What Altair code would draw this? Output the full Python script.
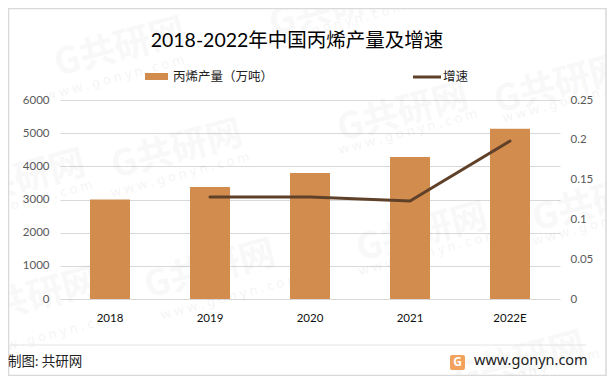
import altair as alt
import pandas as pd

years = ["2018", "2019", "2020", "2021", "2022E"]
output = [3000, 3380, 3800, 4285, 5130]
growth = [None, 0.128, 0.128, 0.123, 0.1985]
FONT = "Lato, Noto Sans CJK SC"
W, H = 500, 199
PL, PT = 52, 92
df = pd.DataFrame({"year": years, "output": output, "growth": growth})


def px(x):
    return x - 8 - PL


def py(y):
    return y - 8 - PT


def text(label, x, y, size, color="#000000", align="left", opacity=1.0, angle=0, weight="normal", font=FONT):
    return alt.Chart(df.head(1)).mark_text(
        text=label, fontSize=size, color=color, align=align, baseline="middle", opacity=opacity,
        angle=angle, fontWeight=weight, font=font, clip=False,
    ).encode(x=alt.value(px(x)), y=alt.value(py(y)))


def hrule(x1, x2, y, color, size=1):
    return alt.Chart(df.head(1)).mark_rule(color=color, strokeWidth=size).encode(
        x=alt.value(px(x1)), x2=alt.value(px(x2)), y=alt.value(py(y)))


def vrule(x, y1, y2, color, size=1):
    return alt.Chart(df.head(1)).mark_rule(color=color, strokeWidth=size).encode(
        x=alt.value(px(x)), y=alt.value(py(y1)), y2=alt.value(py(y2)))


x_enc = alt.X("year:N", sort=years, title=None, scale=alt.Scale(paddingInner=0, paddingOuter=0),
              axis=alt.Axis(labelAngle=0, labelFontSize=11.5, labelColor="#111111", labelFont=FONT,
                            ticks=False, domain=False, labelPadding=13, grid=False))

bars = alt.Chart(df).mark_bar(color="#D28C4E", size=40).encode(
    x=x_enc,
    y=alt.Y("output:Q", title=None, scale=alt.Scale(domain=[0, 6000]),
            axis=alt.Axis(values=[0, 1000, 2000, 3000, 4000, 5000, 6000], format="d", labelFontSize=11.5,
                          labelColor="#595959", labelFont=FONT, ticks=False, domain=False,
                          gridColor="#D9D9D9", gridWidth=1, labelPadding=11)),
)
line = alt.Chart(df.dropna()).mark_line(color="#5F4129", strokeWidth=3, strokeCap="round").encode(
    x=alt.X("year:N", sort=years, title=None),
    y=alt.Y("growth:Q", title=None, scale=alt.Scale(domain=[0, 0.25]),
            axis=alt.Axis(orient="right", values=[0, 0.05, 0.1, 0.15, 0.2, 0.25], format="~g",
                          labelFontSize=11.5, labelColor="#595959", labelFont=FONT, ticks=False,
                          domain=False, grid=False, labelPadding=10)),
)

marks = []
for x, y in [(120, 48), (177, 150), (403, 113), (210, 270), (422, 233), (20, 180), (598, 203), (560, 85), (33, 298), (520, 362), (335, 8)]:
    marks.append(text("G共研网", x, y, 36, align="center", opacity=0.022, angle=345, weight="bold", font="Noto Sans CJK SC"))
for x, y in [(115, 78), (180, 175), (408, 132), (230, 297), (428, 253), (23, 203), (602, 223), (572, 100), (50, 335), (530, 372), (335, 25)]:
    marks.append(text("w w w . g o n y n . c o m", x, y, 13, align="center", opacity=0.04, angle=345, font="Noto Sans"))

logo = alt.Chart(df.head(1)).mark_bar(color="#F2A25C", cornerRadius=2).encode(
    x=alt.value(px(450)), x2=alt.value(px(465)), y=alt.value(py(355)), y2=alt.value(py(370)))

deco = [
    hrule(8, 606, 8.5, "#D9D9D9", 1.5),
    hrule(8, 606, 375.5, "#D9D9D9", 1.5),
    vrule(8.5, 8, 376, "#D9D9D9", 1.5),
    vrule(606, 8, 376, "#D9D9D9", 1.5),
    hrule(8, 586, 345, "#E4E4E4", 1),
    text("2018-2022年中国丙烯产量及增速", 297, 41, 19.5, align="center"),
    text("丙烯产量（万吨）", 173, 77, 12.5, color="#222222"),
    text("增速", 443, 77, 12.5, color="#222222"),
    text("制图: 共研网", 8, 362, 13.5, color="#222222"),
    text("www.gonyn.com", 474, 361, 14.5, color="#222222", font="Noto Sans"),
    logo,
    text("G", 457.5, 362, 12, color="#FFFFFF", align="center", weight="bold", font="Noto Sans"),
    alt.Chart(df.head(1)).mark_bar(color="#D28C4E").encode(
        x=alt.value(px(145)), x2=alt.value(px(168)), y=alt.value(py(73)), y2=alt.value(py(80))),
    hrule(413, 441, 77, "#5F4129", 3),
]

chart = alt.layer(*marks, bars, line, *deco).resolve_scale(y="independent").properties(
    width=W, height=H,
    padding={"left": PL, "top": PT, "right": 47, "bottom": 77},
    autosize=alt.AutoSizeParams(type="none"),
).configure_view(stroke=None)

chart.save("out.html", embed_options={"renderer": "svg", "actions": False})
